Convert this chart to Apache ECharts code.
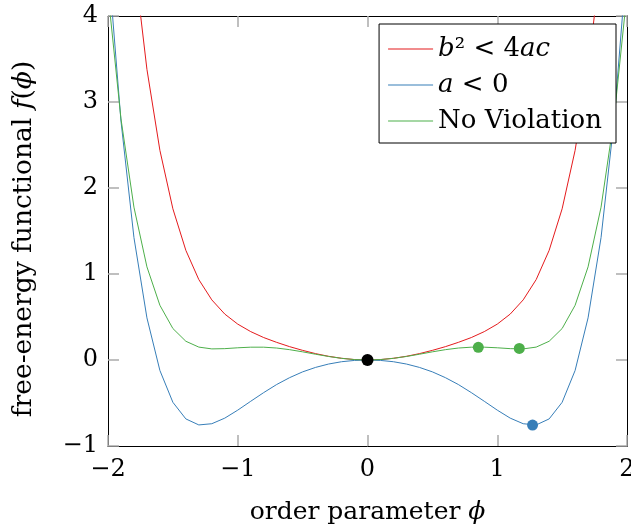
<!DOCTYPE html>
<html>
<head>
<meta charset="utf-8">
<script src="https://cdn.jsdelivr.net/npm/echarts@6/dist/echarts.min.js"></script>
<style>
  html, body { margin: 0; padding: 0; background: #fff; }
  #chart { width: 631px; height: 529px; }
</style>
</head>
<body>
<div id="chart"></div>
<script>
// order parameter samples
const phi = [-2, -1.9, -1.8, -1.7, -1.6, -1.5, -1.4, -1.3, -1.2, -1.1, -1, -0.9, -0.8, -0.7, -0.6, -0.5, -0.4, -0.3, -0.2, -0.1,
  0, 0.1, 0.2, 0.3, 0.4, 0.5, 0.6, 0.7, 0.8, 0.9, 1, 1.1, 1.2, 1.3, 1.4, 1.5, 1.6, 1.7, 1.8, 1.9, 2];
// b^2 < 4ac
const redVals = [8.667, 6.388, 4.664, 3.380, 2.438, 1.758, 1.275, 0.935, 0.699, 0.534, 0.417, 0.330, 0.261, 0.205, 0.155, 0.112, 0.074, 0.043, 0.020, 0.005,
  0, 0.005, 0.020, 0.043, 0.074, 0.112, 0.155, 0.205, 0.261, 0.330, 0.417, 0.534, 0.699, 0.935, 1.275, 1.758, 2.438, 3.380, 4.664, 6.388, 8.667];
// a < 0
const blueVals = [4.667, 2.778, 1.424, 0.490, -0.122, -0.492, -0.685, -0.755, -0.741, -0.676, -0.583, -0.480, -0.379, -0.285, -0.205, -0.138, -0.086, -0.047, -0.020, -0.005,
  0, -0.005, -0.020, -0.047, -0.086, -0.138, -0.205, -0.285, -0.379, -0.480, -0.583, -0.676, -0.741, -0.755, -0.685, -0.492, -0.122, 0.490, 1.424, 2.778, 4.667];
// no violation
const greenVals = [4.267, 2.804, 1.777, 1.083, 0.636, 0.366, 0.218, 0.150, 0.129, 0.132, 0.142, 0.149, 0.149, 0.139, 0.120, 0.095, 0.067, 0.041, 0.019, 0.005,
  0, 0.005, 0.019, 0.041, 0.067, 0.095, 0.120, 0.139, 0.149, 0.149, 0.142, 0.132, 0.129, 0.150, 0.218, 0.366, 0.636, 1.083, 1.777, 2.804, 4.267];
// marked points
const blackDot = [[0, 0]];
const greenDots = [[0.854, 0.147], [1.17, 0.135]];
const blueDot = [[1.272, -0.757]];

const xTicks = [-2, -1, 0, 1, 2];
const yTicks = [-1, 0, 1, 2, 3, 4];

const RED = '#e41a1c', BLUE = '#377eb8', GREEN = '#4daf4a';
const FONT = 'DejaVu Serif';
const FS = 25;

const chart = echarts.init(document.getElementById('chart'));
const pair = vals => phi.map((x, i) => [x, vals[i]]);
const minus = v => (v < 0 ? '\u2212' + Math.abs(v) : String(v));
const tick = { show: true, inside: true, length: 11, lineStyle: { color: '#aaa', width: 1.5 } };
const line = { show: true, onZero: false, lineStyle: { color: '#000', width: 1 } };
const makeRich = size => ({
  n: { fontFamily: FONT, fontSize: size, color: '#000' },
  i: { fontFamily: FONT, fontSize: size, fontStyle: 'italic', color: '#000' }
});

const option = {
  animation: false,
  grid: { left: 108, right: 4, top: 16, bottom: 83, outerBoundsMode: 'none' },
  legend: {
    data: ['red', 'blue', 'green'],
    orient: 'vertical',
    right: 15, top: 24,
    backgroundColor: '#fff',
    borderColor: '#000', borderWidth: 1, borderRadius: 0,
    padding: [10, 14, 7, 9],
    icon: 'rect',
    itemWidth: 45, itemHeight: 1.2, itemGap: 6,
    formatter: name => ({
      red: '{i|b}{n|² < 4}{i|ac}',
      blue: '{i|a}{n| < 0}',
      green: '{n|No Violation}'
    })[name],
    textStyle: { fontFamily: FONT, fontSize: 26, color: '#000', lineHeight: 30, rich: makeRich(26) }
  },
  xAxis: [{
    type: 'value', min: -2, max: 2, interval: 1, position: 'bottom',
    name: '{n|order parameter }{i|ϕ}', nameLocation: 'middle', nameGap: 54,
    nameTextStyle: { rich: makeRich(FS) },
    axisLine: line, axisTick: tick, splitLine: { show: false },
    axisLabel: { margin: 12, fontFamily: FONT, fontSize: 24, color: '#000', formatter: minus, customValues: xTicks }
  }, {
    type: 'value', min: -2, max: 2, interval: 1, position: 'top',
    axisLine: line, axisTick: tick, splitLine: { show: false }, axisLabel: { show: false }
  }],
  yAxis: [{
    type: 'value', min: -1, max: 4, interval: 1, position: 'left',
    name: '{n|free-energy functional }{i|f}{n|(}{i|ϕ}{n|)}', nameLocation: 'middle', nameGap: 70,
    nameTextStyle: { rich: makeRich(26.5), padding: [0, 16, 0, 0] },
    axisLine: line, axisTick: tick, splitLine: { show: false },
    axisLabel: { margin: 10, fontFamily: FONT, fontSize: 24, color: '#000', formatter: minus, customValues: yTicks }
  }, {
    type: 'value', min: -1, max: 4, interval: 1, position: 'right',
    axisLine: line, axisTick: tick, splitLine: { show: false }, axisLabel: { show: false }
  }],
  series: [
    { name: 'red', type: 'line', data: pair(redVals), symbol: 'none', color: RED, lineStyle: { width: 1, color: RED }, z: 2 },
    { name: 'blue', type: 'line', data: pair(blueVals), symbol: 'none', color: BLUE, lineStyle: { width: 1, color: BLUE }, z: 2 },
    { name: 'green', type: 'line', data: pair(greenVals), symbol: 'none', color: GREEN, lineStyle: { width: 1, color: GREEN }, z: 2 },
    { type: 'scatter', data: blackDot, symbolSize: 12, itemStyle: { color: '#000', opacity: 1 }, z: 5 },
    { type: 'scatter', data: greenDots, symbolSize: 11, itemStyle: { color: GREEN, opacity: 1 }, z: 5 },
    { type: 'scatter', data: blueDot, symbolSize: 11, itemStyle: { color: BLUE, opacity: 1 }, z: 5 }
  ]
};
chart.setOption(option);
</script>
</body>
</html>
